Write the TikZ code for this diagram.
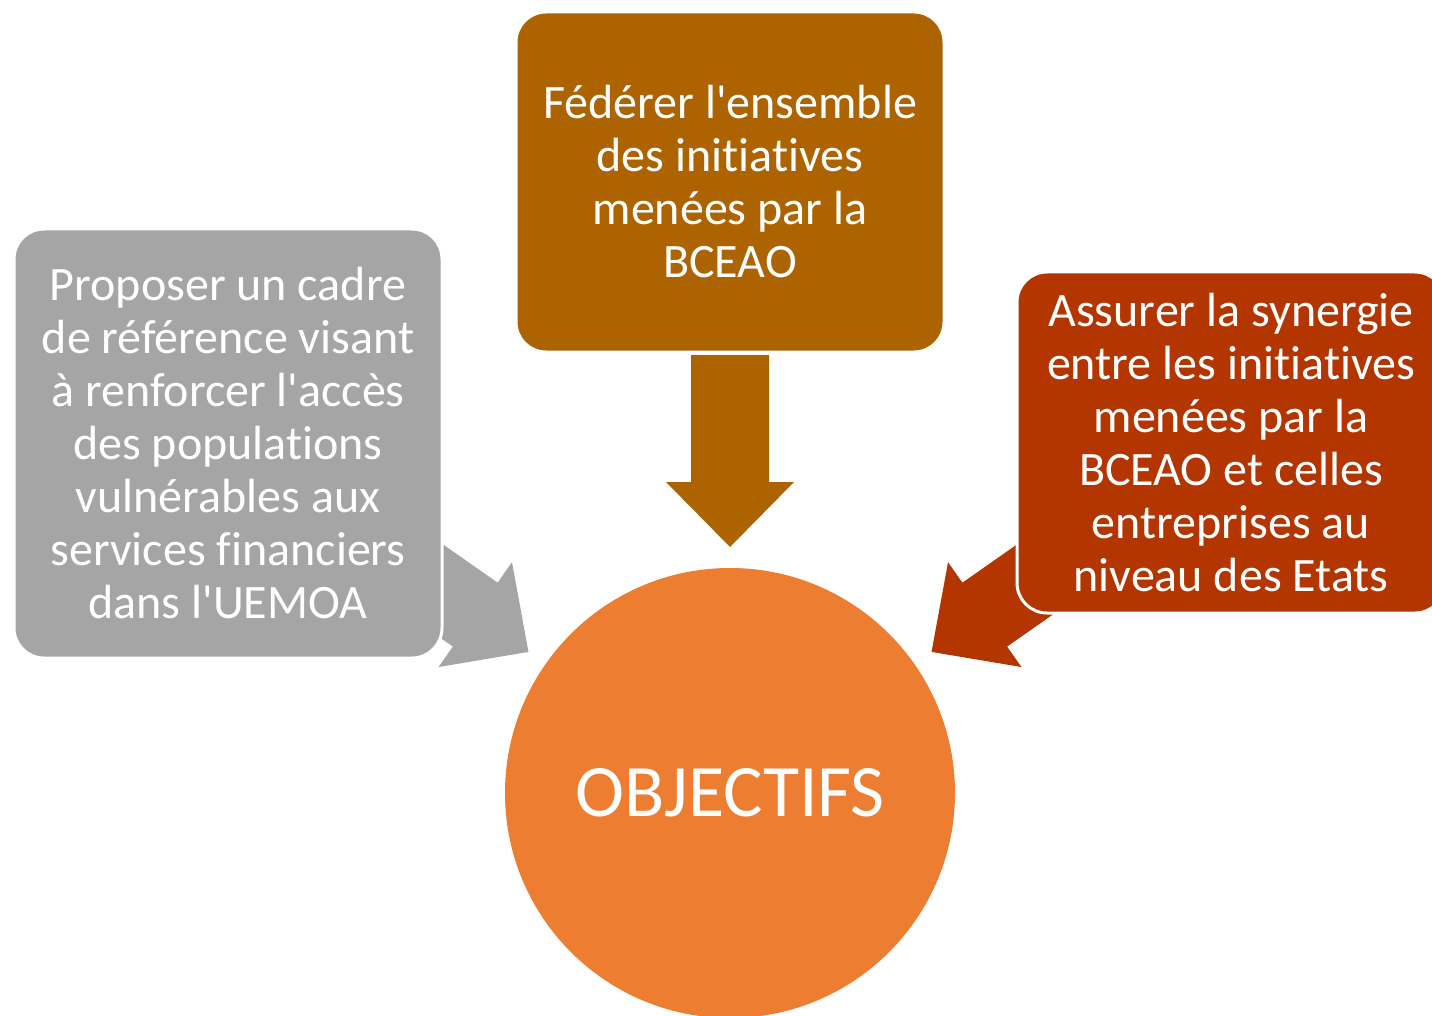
\documentclass[tikz,border=0pt]{standalone}
\usepackage{fontspec}
\setmainfont{Carlito}[Ligatures={TeXOff,NoCommon}]
\usepackage{tikz}
\usetikzlibrary{calc,shapes}
\usetikzlibrary{positioning}
\usetikzlibrary{backgrounds}

\definecolor{brun}{HTML}{AD6400}
\definecolor{gris}{HTML}{A5A5A5}
\definecolor{rouille}{HTML}{B33500}
\definecolor{orangeobj}{HTML}{ED7D31}

% block arrow: #1 colour, #2 tail, #3 tip
\newcommand{\blockarrow}[3]{%
	\coordinate (ha) at ($(#3)!65pt!(#2)$);
	\fill[#1] ($(#2)!39pt!90:(#3)$) -- ($(ha)!39pt!-90:(#2)$) -- ($(ha)!64pt!-90:(#2)$) -- (#3)
		-- ($(ha)!64pt!90:(#2)$) -- ($(ha)!39pt!90:(#2)$) -- ($(#2)!39pt!-90:(#3)$) -- cycle;
}

\begin{document}
\begin{tikzpicture}[x=1pt,y=-1pt,
		boite/.style={rounded corners=30pt, draw=white, line width=3pt, text=white, align=center,
			minimum width=428pt, inner sep=0pt, font=\fontsize{48}{53}\selectfont}]
		
		\useasboundingbox (0,0) rectangle (1432,1016);
		
		\node[circle, fill=orangeobj, minimum size=450pt, text=white, font=\fontsize{74}{90}\selectfont] (objectifs) at (730,793) {OBJECTIFS};
		
		\node[boite, fill=brun, minimum height=340pt] (federer) at (730,182) {F\'ed\'erer l'ensemble\\des initiatives\\men\'ees par la\\BCEAO};
		\node[boite, fill=gris, minimum height=429pt] (proposer) at (228,443.5) {Proposer un cadre\\de r\'ef\'erence visant\\\`a renforcer l'acc\`es\\des populations\\vuln\'erables aux\\services financiers\\dans l'UEMOA};
		\node[boite, fill=rouille, minimum height=341pt] (synergie) at (1231,442.5) {Assurer la synergie\\entre les initiatives\\men\'ees par la\\BCEAO et celles\\entreprises au\\niveau des Etats};
		
		\begin{scope}[on background layer]
			\coordinate (queue1) at ($(objectifs.center)+(90:438pt)$);
			\coordinate (pointe1) at ($(objectifs.center)+(90:246pt)$);
			\coordinate (queue2) at ($(objectifs.center)+(145:438pt)$);
			\coordinate (pointe2) at ($(objectifs.center)+(145:246pt)$);
			\coordinate (queue3) at ($(objectifs.center)+(35:438pt)$);
			\coordinate (pointe3) at ($(objectifs.center)+(35:246pt)$);
			
			\blockarrow{brun}{queue1}{pointe1}
			\blockarrow{gris}{queue2}{pointe2}
			\blockarrow{rouille}{queue3}{pointe3}
		\end{scope}
	\end{tikzpicture}
\end{document}
